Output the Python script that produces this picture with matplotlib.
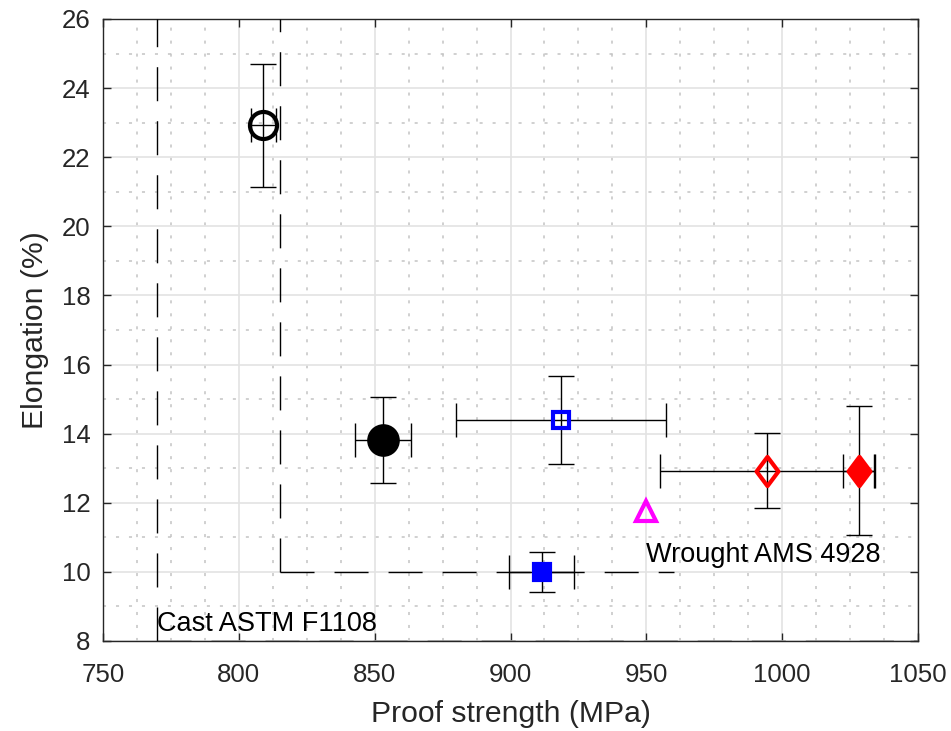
import numpy as np
import matplotlib
matplotlib.use("Agg")
import matplotlib.pyplot as plt
from matplotlib.markers import MarkerStyle
from matplotlib.path import Path
from matplotlib.ticker import MultipleLocator

plt.rcParams['font.family'] = ['Liberation Sans', 'DejaVu Sans']

# measured values (proof strength in MPa, elongation in %)
proof = [809.0, 853.0, 918.6, 911.5, 950.0, 994.6, 1028.2]
proof_err = [4.5, 10.2, 38.7, 12.0, 0.0, 39.4, 5.7]
elong = [22.92, 13.82, 14.40, 10.0, 11.75, 12.93, 12.93]
elong_err = [1.77, 1.24, 1.27, 0.57, 0.0, 1.08, 1.87]

diamond_path = Path([(0, 1), (0.75, 0), (0, -1), (-0.75, 0), (0, 1)], closed=True)
diamond = MarkerStyle(diamond_path, joinstyle='miter')
markers = ['o', 'o', 's', 's', '^', diamond, diamond]
edge_cols = ['k', 'k', '#0000ff', '#0000ff', '#ff00ff', '#ff0000', '#ff0000']
face_cols = ['none', 'k', 'none', '#0000ff', 'none', 'none', '#ff0000']
msizes = [19.5, 20.5, 12, 12, 15, 21, 21]

# spec limits
cast_ys = 770      # ASTM F1108 min yield
cast_el = 8
wrought_ys = 815   # AMS 4928
wrought_el = 10
wrought_end = 960

fig = plt.figure(figsize=(9.51, 7.31), dpi=100)
ax = fig.add_axes([103/951, 90/731, 815/951, 622/731])

dash = (0, (24.5, 14.4))
ax.plot([cast_ys, cast_ys], [cast_el, 26], color='k', lw=1.0, ls=dash, zorder=3)
ax.plot([cast_ys, 1050], [cast_el, cast_el], color='k', lw=1.0, ls=dash, zorder=3)
ax.plot([wrought_ys, wrought_ys], [wrought_el, 26], color='k', lw=1.0, ls=dash, zorder=3)
ax.plot([wrought_ys, wrought_end], [wrought_el, wrought_el], color='k', lw=1.0, ls=dash, zorder=3)

for i in range(len(proof)):
    if elong_err[i] > 0:
        ax.errorbar(proof[i], elong[i], yerr=elong_err[i], fmt='none', ecolor='k',
                    elinewidth=1.0, capsize=9.6, capthick=1.0, zorder=4)
    if proof_err[i] > 0:
        ax.errorbar(proof[i], elong[i], xerr=proof_err[i], fmt='none', ecolor='k',
                    elinewidth=1.0, capsize=12.2, capthick=1.0, zorder=4)
    ax.plot(proof[i], elong[i], ls='none', marker=markers[i], ms=msizes[i], mew=3,
            mec=edge_cols[i], mfc=face_cols[i], zorder=5)

ax.text(cast_ys, 8.5, 'Cast ASTM F1108', ha='left', va='center', fontsize=19.5, color='k')
ax.text(950, 10.5, 'Wrought AMS 4928', ha='left', va='center', fontsize=19.5, color='k')

ax.set_xlim(750, 1050)
ax.set_ylim(8, 26)
ax.xaxis.set_major_locator(MultipleLocator(50))
ax.xaxis.set_minor_locator(MultipleLocator(12.5))
ax.yaxis.set_major_locator(MultipleLocator(2))
ax.yaxis.set_minor_locator(MultipleLocator(1))

ax.grid(which='major', color='#e3e3e3', lw=1.2, ls='-')
ax.grid(which='minor', color='#c4c4c4', lw=1.1, dashes=(2, 6.5))
ax.set_axisbelow(True)

ax.tick_params(which='major', direction='in', length=6, width=1.0, color='#262626',
               labelsize=18.6, labelcolor='#262626', top=True, right=True, pad=9)
ax.tick_params(axis='x', which='major', pad=16)
ax.tick_params(which='minor', length=0)
for s in ax.spines.values():
    s.set_color('#262626')
    s.set_linewidth(1.0)

ax.set_xlabel('Proof strength (MPa)', fontsize=21.7, color='#262626', labelpad=9)
ax.set_ylabel('Elongation (%)', fontsize=21.7, color='#262626', labelpad=9)

fig.savefig('out.png', dpi=100)
